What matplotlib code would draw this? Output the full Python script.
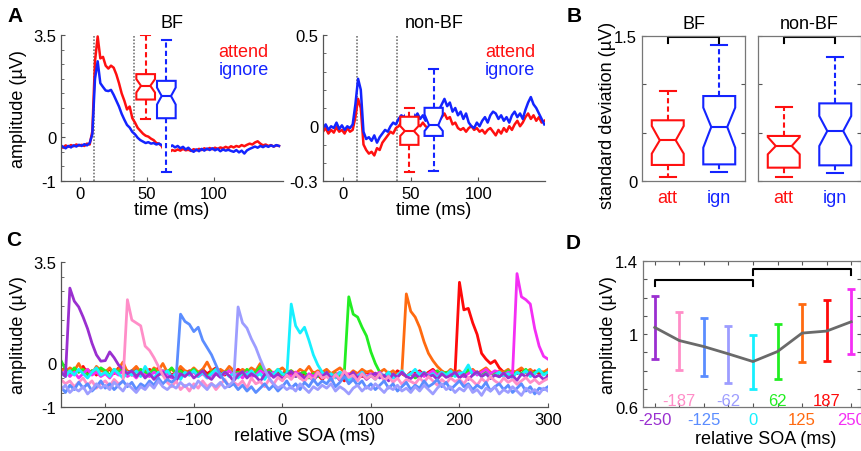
import numpy as np
import matplotlib
matplotlib.use('Agg')
import matplotlib.pyplot as plt
from matplotlib.ticker import MultipleLocator

plt.rcParams['font.family'] = ['Liberation Sans', 'DejaVu Sans']
plt.rcParams['font.size'] = 12
plt.rcParams['axes.edgecolor'] = '#555555'
plt.rcParams['axes.linewidth'] = 0.9
plt.rcParams['xtick.color'] = '#555555'
plt.rcParams['ytick.color'] = '#555555'
plt.rcParams['xtick.labelcolor'] = 'black'
plt.rcParams['ytick.labelcolor'] = 'black'
plt.rcParams['xtick.direction'] = 'in'
plt.rcParams['ytick.direction'] = 'in'

W, H = 862, 452
RED, BLUE = '#ff1010', '#1424ff'

# ---------------- panel A : averaged traces (time in ms, 2 ms steps) ----------------
ta = np.arange(-15, 150, 2)
bf_att = [-0.30, -0.36, -0.28, -0.33, -0.27, -0.31, -0.25, -0.29, -0.26, -0.30, -0.22, -0.25,
          0.2, 2.6, 3.45, 2.7, 2.75, 2.45, 2.35, 2.45, 2.38, 2.15, 1.85, 1.5, 1.25, 0.95, 1.05,
          0.65, 0.5, 0.32, 0.22, 0.12, 0.05, 0.02, -0.05, -0.1, -0.2, -0.22, -0.3,
          -0.48, -0.45, -0.5, -0.44, -0.47, -0.42, -0.46, -0.4, -0.45, -0.43,
          -0.47, -0.41, -0.45, -0.4, -0.44, -0.38, -0.42, -0.37, -0.41, -0.36,
          -0.4, -0.35, -0.38, -0.33, -0.37, -0.31, -0.35, -0.3, -0.33, -0.27,
          -0.31, -0.26, -0.22, -0.25, -0.18, -0.14, -0.22, -0.28, -0.25, -0.3,
          -0.27, -0.32, -0.28, -0.3]
bf_ign = [-0.27, -0.33, -0.38, -0.3, -0.35, -0.28, -0.32, -0.26, -0.3, -0.24, -0.28, -0.2,
          0.1, 2.0, 2.6, 1.85, 1.72, 1.6, 1.58, 1.62, 1.45, 1.25, 1.05, 0.8, 0.6, 0.42, 0.33,
          0.18, 0.1, -0.02, -0.1, -0.15, -0.2, -0.17, -0.22, -0.2, -0.25, -0.22, -0.27,
          -0.3, -0.25, -0.33, -0.28, -0.35, -0.3, -0.38, -0.33, -0.42, -0.36,
          -0.45, -0.5, -0.42, -0.48, -0.4, -0.46, -0.39, -0.44, -0.38, -0.45,
          -0.4, -0.48, -0.42, -0.46, -0.43, -0.47, -0.5, -0.44, -0.52, -0.46,
          -0.56, -0.45, -0.4, -0.36, -0.32, -0.36, -0.3, -0.34, -0.29, -0.33,
          -0.28, -0.32, -0.27, -0.3]
nbf_att = [-0.03, -0.01, -0.04, -0.02, -0.035, -0.005, -0.03, -0.02, -0.04, -0.01, -0.03, -0.02,
           0.05, 0.15, 0.1, -0.1, -0.13, -0.15, -0.14, -0.16, -0.12, -0.13,
           -0.09, -0.07, -0.05, -0.03, -0.04, -0.01, 0.0, 0.02, 0.0, -0.01,
           -0.02, 0.0, -0.01, 0.01, 0.0, 0.02, 0.0, -0.01, 0.01, 0.02,
           0.0, 0.03, 0.05, 0.07, 0.04, 0.05, 0.01, 0.02, -0.01, -0.02,
           -0.01, -0.03, -0.01, 0.0, -0.02, -0.01, -0.03, -0.02, -0.04, -0.02,
           -0.01, -0.03, -0.05, -0.02, -0.04, -0.01, -0.03, 0.0, -0.02, 0.01,
           0.03, 0.0, 0.02, 0.05, 0.07, 0.04, 0.06, 0.03, 0.05, 0.02, 0.03]
nbf_ign = [-0.01, 0.01, -0.02, 0.0, -0.01, 0.02, -0.015, 0.005, -0.02, 0.0, -0.01, 0.01,
           0.12, 0.26, 0.2, -0.03, -0.07, -0.06, -0.08, -0.05, -0.09, -0.06,
           -0.04, -0.02, -0.03, 0.0, 0.02, 0.01, 0.04, 0.06, 0.05, 0.07,
           0.06, 0.08, 0.05, 0.07, 0.04, 0.06, 0.03, 0.05, 0.02, 0.04,
           0.06, 0.09, 0.12, 0.15, 0.11, 0.13, 0.08, 0.1, 0.06, 0.08,
           0.04, 0.07, 0.02, 0.0, -0.01, 0.02, 0.0, 0.03, 0.05, 0.02,
           0.06, 0.08, 0.07, 0.04, 0.06, 0.03, 0.05, 0.02, 0.06, 0.08,
           0.05, 0.07, 0.04, 0.09, 0.13, 0.16, 0.12, 0.1, 0.07, 0.04, 0.01]

# box stats: whislo, q1, cilo, median, cihi, q3, whishi
bf_att_box = [0.63, 1.29, 1.53, 1.76, 1.99, 2.16, 3.5]
bf_ign_box = [-1.18, 0.65, 1.12, 1.41, 1.70, 1.93, 3.33]
nbf_att_box = [-0.253, -0.102, -0.053, -0.026, 0.001, 0.052, 0.101]
nbf_ign_box = [-0.244, -0.053, -0.026, 0.005, 0.065, 0.101, 0.315]

# ---------------- panel B : SD box plots ----------------
sd_bf_att = [0.045, 0.166, 0.283, 0.421, 0.569, 0.628, 0.931]
sd_bf_ign = [0.097, 0.172, 0.345, 0.559, 0.759, 0.879, 1.407]
sd_nbf_att = [0.045, 0.138, 0.276, 0.362, 0.455, 0.466, 0.769]
sd_nbf_ign = [0.086, 0.162, 0.362, 0.517, 0.672, 0.803, 1.286]

# ---------------- panel C : traces per SOA (5 ms steps) ----------------
tc = np.arange(-250, 301, 5)
c_m250 = [-0.3, -0.45, 2.6, 2.15, 1.95, 1.6, 1.2, 0.7, 0.3, 0.08,
          0.1, 0.4, 0.2, -0.05, -0.2, -0.35, -0.25, -0.45, -0.3, -0.5,
          -0.35, -0.55, -0.4, -0.3, -0.5, -0.42, -0.6, -0.35, -0.45, -0.3,
          -0.5, -0.38, -0.25, -0.45, -0.55, -0.35, -0.48, -0.3, -0.42, -0.6,
          -0.4, -0.28, -0.5, -0.35, -0.45, -0.62, -0.38, -0.3, -0.48, -0.36,
          -0.55, -0.4, -0.27, -0.45, -0.35, -0.5, -0.42, -0.6, -0.38, -0.46,
          -0.3, -0.52, -0.4, -0.58, -0.35, -0.45, -0.3, -0.5, -0.38, -0.55,
          -0.42, -0.33, -0.5, -0.4, -0.6, -0.36, -0.48, -0.3, -0.45, -0.52,
          -0.38, -0.5, -0.32, -0.46, -0.4, -0.55, -0.35, -0.48, -0.42, -0.3,
          -0.5, -0.37, -0.55, -0.4, -0.28, -0.45, -0.35, -0.52, -0.4, -0.46,
          -0.33, -0.5, -0.42, -0.58, -0.36, -0.45, -0.3, -0.48, -0.4, -0.55, -0.44]
c_m187 = [-0.55, -0.7, -0.6, -0.8, -0.65, -0.5, -0.75, -0.6, -0.85, -0.7,
          -0.6, -0.78, -0.55, -0.7, -0.62, 2.2, 1.5, 1.4, 1.3, 0.6,
          0.45, 0.2, -0.1, -0.4, -0.65, -0.8, -0.6, -0.9, -0.75, -0.95,
          -0.7, -0.85, -0.6, -0.8, -0.68, -0.9, -0.72, -0.55, -0.8, -0.65,
          -0.75, -0.6, -0.85, -0.5, -0.7, -0.62, -0.8, -0.55, -0.72, -0.48,
          -0.6, -0.4, -0.55, -0.35, -0.5, -0.62, -0.42, -0.58, -0.3, -0.5,
          -0.45, -0.6, -0.38, -0.55, -0.25, -0.48, -0.4, -0.6, -0.35, -0.52,
          -0.42, -0.55, -0.35, -0.6, -0.45, -0.65, -0.5, -0.72, -0.55, -0.62,
          -0.7, -0.5, -0.65, -0.45, -0.6, -0.75, -0.55, -0.68, -0.5, -0.62,
          -0.55, -0.7, -0.48, -0.6, -0.75, -0.52, -0.65, -0.45, -0.6, -0.7,
          -0.5, -0.65, -0.55, -0.72, -0.6, -0.48, -0.66, -0.55, -0.7, -0.6, -0.52]
c_m125 = [-0.8, -1.0, -0.75, -0.9, -0.65, -0.85, -0.7, -0.95, -0.8, -0.6,
          -0.85, -0.7, -0.9, -0.75, -0.6, -0.8, -0.65, -0.9, -0.7, -0.8,
          -0.6, -0.75, -0.5, -0.7, -0.55, -0.65, -0.5, 1.7, 1.45, 1.35,
          1.1, 1.25, 0.8, 0.55, 0.3, -0.05, -0.4, -0.6, -0.8, -0.7,
          -0.9, -0.75, -0.95, -0.8, -1.0, -0.85, -0.7, -0.9, -0.75, -0.95,
          -0.8, -0.6, -0.85, -0.7, -0.9, -0.65, -0.8, -0.55, -0.75, -0.6,
          -0.7, -0.5, -0.8, -0.65, -0.45, -0.7, -0.55, -0.75, -0.6, -0.85,
          -0.7, -0.9, -0.75, -0.6, -0.85, -0.7, -0.95, -0.8, -0.65, -0.9,
          -0.75, -0.85, -0.6, -0.8, -0.7, -0.55, -0.8, -0.65, -0.9, -0.75,
          -0.6, -0.8, -0.7, -0.9, -0.75, -0.85, -0.65, -0.95, -0.8, -0.7,
          -0.9, -0.75, -1.0, -0.85, -0.7, -0.95, -0.8, -1.05, -0.85, -0.9, -0.8]
c_m62 = [-0.9, -0.75, -1.0, -0.85, -0.95, -0.8, -1.05, -0.9, -0.7, -0.85,
         -0.75, -0.9, -0.65, -0.8, -0.95, -0.7, -0.85, -1.0, -0.8, -0.9,
         -0.7, -0.85, -0.6, -0.8, -0.9, -0.75, -0.85, -0.65, -0.8, -0.7,
         -0.85, -0.6, -0.75, -0.9, -0.7, -0.8, -0.65, -0.85, -0.75, -0.6,
         1.95, 1.4, 1.22, 0.85, 0.55, 0.15, -0.2, -0.5, -0.7, -0.85,
         -0.75, -0.9, -0.8, -0.95, -0.7, -0.85, -1.0, -0.8, -0.9, -0.75,
         -0.85, -0.7, -0.95, -0.8, -0.9, -1.05, -0.85, -0.75, -0.95, -0.8,
         -0.9, -0.7, -0.85, -1.0, -0.8, -0.9, -0.75, -0.95, -0.85, -1.0,
         -0.8, -0.95, -0.75, -0.9, -1.05, -0.85, -0.7, -0.9, -0.8, -1.0,
         -0.85, -0.95, -0.75, -1.0, -0.9, -1.1, -0.85, -0.95, -0.8, -1.05,
         -0.9, -1.0, -0.8, -0.95, -1.1, -0.85, -1.0, -0.9, -1.05, -0.85, -0.95]
c_0 = [-0.3, -0.45, -0.25, -0.4, -0.2, -0.35, -0.5, -0.3, -0.15, -0.4,
       -0.3, -0.45, -0.2, -0.35, -0.5, -0.3, -0.4, -0.25, -0.45, -0.1,
       -0.35, -0.5, -0.3, -0.4, -0.25, -0.45, -0.35, -0.55, -0.3, -0.4,
       -0.25, -0.45, -0.3, -0.5, -0.35, -0.2, -0.4, -0.3, -0.45, -0.35,
       -0.5, -0.3, -0.4, -0.25, -0.45, -0.35, -0.55, -0.3, -0.4, -0.2,
       -0.35, -0.45, 2.05, 1.3, 1.05, 1.25, 0.8, 0.3, -0.05, -0.3,
       -0.45, -0.35, -0.5, -0.3, -0.4, -0.6, -0.35, -0.45, -0.3, -0.5,
       -0.4, -0.55, -0.35, -0.45, -0.3, -0.5, -0.4, -0.25, -0.45, -0.35,
       -0.2, -0.4, -0.3, -0.45, -0.35, -0.5, -0.3, -0.4, -0.25, -0.45,
       -0.35, -0.3, -0.05, -0.4, -0.3, -0.45, -0.35, -0.5, -0.4, -0.3,
       -0.45, -0.35, -0.5, -0.3, -0.4, -0.25, -0.45, -0.35, -0.2, -0.4, -0.3]
c_62 = [0.1, -0.2, -0.35, -0.15, -0.3, -0.2, -0.4, -0.25, -0.3, -0.15,
        -0.25, -0.4, -0.2, -0.3, -0.15, -0.35, -0.25, -0.45, -0.2, -0.3,
        -0.35, -0.2, -0.4, -0.25, -0.3, -0.15, -0.35, -0.25, -0.4, -0.3,
        -0.2, -0.35, -0.25, -0.45, -0.3, -0.2, -0.4, -0.3, -0.25, -0.35,
        -0.3, -0.45, -0.2, -0.35, -0.3, -0.1, -0.4, -0.25, -0.35, -0.2,
        -0.4, -0.3, -0.25, -0.45, -0.35, -0.3, -0.5, -0.35, -0.45, -0.3,
        -0.4, -0.55, -0.35, -0.45, -0.3, 2.3, 1.7, 1.6, 1.25, 0.95,
        0.4, 0.0, -0.3, -0.45, -0.35, -0.5, -0.4, -0.3, -0.45, -0.35,
        -0.5, -0.4, -0.3, -0.45, -0.35, -0.25, -0.4, -0.3, -0.45, -0.35,
        -0.3, -0.45, -0.2, -0.35, -0.3, -0.4, -0.25, -0.35, -0.3, -0.45,
        -0.35, -0.25, -0.4, -0.3, -0.35, -0.2, -0.4, -0.3, -0.25, -0.35, -0.3]
c_125 = [-0.2, -0.3, -0.15, -0.25, 0.0, -0.3, -0.2, -0.35, -0.1, -0.25,
         -0.3, -0.15, -0.35, -0.2, 0.05, -0.3, -0.25, -0.1, -0.3, -0.2,
         -0.35, -0.15, -0.25, 0.0, -0.3, -0.2, -0.35, -0.1, -0.25, -0.3,
         -0.15, -0.3, -0.2, 0.05, -0.25, -0.35, -0.2, -0.3, -0.1, -0.25,
         -0.35, -0.2, -0.3, -0.15, -0.25, 0.0, -0.3, -0.2, -0.35, -0.25,
         -0.15, -0.3, -0.25, -0.35, -0.2, -0.3, -0.1, -0.35, -0.25, -0.3,
         -0.2, -0.35, -0.25, -0.15, -0.3, -0.4, -0.25, -0.35, -0.2, -0.3,
         -0.25, -0.4, -0.3, -0.2, -0.35, -0.25, -0.4, -0.3, 2.4, 1.8,
         1.6, 1.25, 0.75, 0.35, 0.1, -0.1, -0.25, -0.35, -0.2, -0.3,
         -0.25, -0.4, -0.3, -0.2, -0.35, -0.25, -0.15, -0.3, -0.4, -0.25,
         -0.3, -0.2, -0.35, -0.25, -0.15, -0.3, -0.2, -0.35, -0.25, -0.3, -0.2]
c_187 = [-0.25, -0.15, -0.35, -0.2, -0.3, -0.1, -0.35, -0.25, -0.4, -0.2,
         -0.3, -0.2, -0.35, -0.15, -0.3, -0.25, -0.4, -0.2, -0.3, -0.35,
         -0.2, -0.3, -0.15, -0.35, -0.25, -0.4, -0.3, -0.2, -0.35, -0.25,
         -0.3, -0.4, -0.2, -0.35, -0.25, -0.15, -0.3, -0.4, -0.25, -0.35,
         -0.2, -0.3, -0.25, -0.4, -0.3, -0.2, -0.35, -0.25, -0.45, -0.3,
         -0.35, -0.25, -0.4, -0.3, -0.5, -0.35, -0.45, -0.3, -0.4, -0.55,
         -0.4, -0.5, -0.35, -0.45, -0.6, -0.4, -0.5, -0.35, -0.45, -0.3,
         -0.4, -0.5, -0.35, -0.45, -0.3, -0.4, -0.25, -0.35, -0.45, -0.3,
         -0.35, -0.25, -0.4, -0.3, -0.2, -0.35, -0.3, -0.4, -0.25, -0.35,
         2.8, 1.85, 1.9, 1.4, 1.0, 0.35, 0.15, 0.0, 0.1, -0.15,
         -0.3, -0.4, -0.25, -0.35, -0.2, -0.3, -0.4, -0.25, -0.35, -0.3, -0.4]
c_250 = [-0.4, -0.25, -0.45, -0.3, -0.5, -0.35, -0.2, -0.4, -0.3, -0.45,
         -0.35, -0.5, -0.3, -0.4, -0.25, -0.45, -0.35, -0.5, -0.3, -0.4,
         -0.45, -0.3, -0.4, -0.25, -0.35, -0.5, -0.3, -0.45, -0.35, -0.4,
         -0.3, -0.45, -0.35, -0.5, -0.4, -0.3, -0.45, -0.35, -0.25, -0.4,
         -0.35, -0.5, -0.3, -0.45, -0.4, -0.25, -0.35, -0.45, -0.3, -0.4,
         -0.5, -0.35, -0.45, -0.3, -0.4, -0.55, -0.35, -0.45, -0.3, -0.4,
         -0.35, -0.5, -0.4, -0.3, -0.45, -0.35, -0.55, -0.4, -0.3, -0.45,
         -0.35, -0.4, -0.3, -0.45, -0.35, -0.5, -0.4, -0.3, -0.45, -0.35,
         -0.4, -0.3, -0.45, -0.35, -0.25, -0.4, -0.3, -0.45, -0.35, -0.4,
         -0.3, -0.45, -0.35, -0.25, -0.4, -0.3, -0.2, -0.35, -0.25, -0.3,
         -0.4, -0.3, -0.35, 3.1, 2.3, 2.2, 2.05, 1.2, 0.6, 0.25, 0.15]

# ---------------- panel D : mean amplitude per SOA ----------------
soa = [-250, -187.5, -125, -62.5, 0, 62.5, 125, 187.5, 250]
soa_labels = ['-250', '-187', '-125', '-62', '0', '62', '125', '187', '250']
soa_colors = ['#9a2fd0', '#ff8ec8', '#5b8dff', '#9d9dff', '#16f0ff',
              '#22ee22', '#ff6a10', '#ff0a0a', '#f42ef4']
d_mean = [1.036, 0.964, 0.931, 0.891, 0.849, 0.904, 1.005, 1.016, 1.067]
d_lo = [0.864, 0.805, 0.769, 0.733, 0.698, 0.751, 0.845, 0.851, 0.893]
d_hi = [1.209, 1.118, 1.087, 1.042, 0.996, 1.055, 1.167, 1.184, 1.245]

fig = plt.figure(figsize=(W / 100, H / 100), dpi=100)


def px_axes(l, t, r, b):
    return fig.add_axes([l / W, 1 - b / H, (r - l) / W, (b - t) / H])


def open_axes(ax):
    ax.spines['top'].set_visible(False)
    ax.spines['right'].set_visible(False)
    ax.tick_params(length=3, labelsize=12)


def draw_box(ax, vals, pos, width, color):
    lo, q1, cilo, med, cihi, q3, hi = vals
    st = dict(whislo=lo, q1=q1, cilo=cilo, med=med, cihi=cihi, q3=q3, whishi=hi, fliers=[])
    ax.fill_betweenx([lo, hi], pos - width / 4, pos + width / 4, color='white', lw=0, zorder=3)
    ax.bxp([st], positions=[pos], widths=width, shownotches=True, showfliers=False,
           patch_artist=True, manage_ticks=False, zorder=4,
           boxprops=dict(facecolor='white', edgecolor=color, lw=1.5),
           whiskerprops=dict(color=color, lw=1.5, ls=(0, (2.5, 1.5))),
           capprops=dict(color=color, lw=1.5),
           medianprops=dict(color=color, lw=1.5))


# ---- A, BF ----
ax = px_axes(61, 36, 283, 182)
ax.plot(ta, bf_att, color=RED, lw=1.8, zorder=2)
ax.plot(ta, bf_ign, color=BLUE, lw=1.8, zorder=2)
for x in [10, 40]:
    ax.axvline(x, color='#777777', ls=(0, (1, 1)), lw=1.2, zorder=1)
draw_box(ax, bf_att_box, 49, 14, RED)
draw_box(ax, bf_ign_box, 64.5, 14, BLUE)
ax.set_xlim(-14.5, 152)
ax.set_ylim(-1.5, 3.5)
ax.set_xticks([0, 50, 100])
ax.set_yticks([-1.5, 0, 3.5], ['-1', '0', '3.5'])
ax.yaxis.set_minor_locator(MultipleLocator(0.5))
ax.tick_params(which='minor', length=2)
open_axes(ax)
ax.set_title('BF', fontsize=13, pad=6)
ax.set_xlabel('time (ms)', fontsize=13, labelpad=0)
ax.set_ylabel('amplitude (µV)', fontsize=13)
ax.yaxis.set_label_coords(-0.153, 0.5)
ax.text(0.935, 0.89, 'attend', color=RED, fontsize=13, ha='right', va='center', transform=ax.transAxes)
ax.text(0.935, 0.767, 'ignore', color=BLUE, fontsize=13, ha='right', va='center', transform=ax.transAxes)

# ---- A, non-BF ----
ax = px_axes(323, 36, 545, 182)
ax.plot(ta, nbf_att, color=RED, lw=1.8, zorder=2)
ax.plot(ta, nbf_ign, color=BLUE, lw=1.8, zorder=2)
for x in [10, 40]:
    ax.axvline(x, color='#777777', ls=(0, (1, 1)), lw=1.2, zorder=1)
draw_box(ax, nbf_att_box, 49, 13.5, RED)
draw_box(ax, nbf_ign_box, 67, 13.5, BLUE)
ax.set_xlim(-15, 149.5)
ax.set_ylim(-0.3, 0.5)
ax.set_xticks([0, 50, 100])
ax.set_yticks([-0.3, 0, 0.5], ['-0.3', '0', '0.5'])
ax.yaxis.set_minor_locator(MultipleLocator(0.1))
ax.tick_params(which='minor', length=2)
open_axes(ax)
ax.set_title('non-BF', fontsize=13, pad=6)
ax.set_xlabel('time (ms)', fontsize=13, labelpad=0)
ax.text(0.955, 0.89, 'attend', color=RED, fontsize=13, ha='right', va='center', transform=ax.transAxes)
ax.text(0.955, 0.767, 'ignore', color=BLUE, fontsize=13, ha='right', va='center', transform=ax.transAxes)

# ---- B ----
for i, (title, att, ign, l, r) in enumerate([('BF', sd_bf_att, sd_bf_ign, 642, 745),
                                              ('non-BF', sd_nbf_att, sd_nbf_ign, 758, 861)]):
    ax = px_axes(l, 37, r, 182)
    draw_box(ax, att, 1, 0.62, RED)
    draw_box(ax, ign, 2, 0.62, BLUE)
    ax.plot([1, 1, 2, 2], [1.43, 1.49, 1.49, 1.43], color='black', lw=1.5, clip_on=False)
    ax.set_xlim(0.5, 2.5)
    ax.set_ylim(0, 1.5)
    ax.set_xticks([1, 2], ['att', 'ign'])
    ax.get_xticklabels()[0].set_color(RED)
    ax.get_xticklabels()[1].set_color(BLUE)
    ax.tick_params(axis='x', length=0, labelsize=13, pad=6)
    ax.set_yticks([0, 0.5, 1, 1.5], ['0', '', '', '1.5'] if i == 0 else ['', '', '', ''])
    ax.tick_params(axis='y', length=3, right=True, labelsize=12)
    for s in ax.spines.values():
        s.set_color('#777777')
    ax.set_title(title, fontsize=13, pad=6)
    if i == 0:
        ax.set_ylabel('standard deviation (µV)', fontsize=13)
        ax.yaxis.set_label_coords(-0.25, 0.46)

# ---- C ----
ax = px_axes(61, 263, 548, 408)
for vals, c in zip([c_187, c_125, c_62, c_250, c_0, c_m250, c_m187, c_m125, c_m62],
                   [soa_colors[7], soa_colors[6], soa_colors[5], soa_colors[8], soa_colors[4],
                    soa_colors[0], soa_colors[1], soa_colors[2], soa_colors[3]]):
    ax.plot(tc, vals, color=c, lw=2)
ax.set_xlim(-250, 300)
ax.set_ylim(-1.5, 3.5)
ax.set_xticks([-200, -100, 0, 100, 200, 300])
ax.set_yticks([-1.5, 0, 3.5], ['-1', '0', '3.5'])
ax.yaxis.set_minor_locator(MultipleLocator(0.5))
ax.tick_params(which='minor', length=2)
open_axes(ax)
ax.set_xlabel('relative SOA (ms)', fontsize=13, labelpad=0)
ax.set_ylabel('amplitude (µV)', fontsize=13)
ax.yaxis.set_label_coords(-0.07, 0.5)

# ---- D ----
ax = px_axes(643, 262, 861, 408)
for x, m, lo, hi, c in zip(soa, d_mean, d_lo, d_hi, soa_colors):
    ax.errorbar([x], [m], yerr=[[m - lo], [hi - m]], fmt='none', ecolor=c,
                elinewidth=2, capsize=3, capthick=2)
ax.plot(soa, d_mean, color='#6a6a6a', lw=2, zorder=5)
ax.plot([soa[0], soa[0], soa[4], soa[4]], [1.264, 1.295, 1.295, 1.264], color='black', lw=1.5)
ax.plot([soa[4], soa[4], soa[8], soa[8]], [1.322, 1.358, 1.358, 1.322], color='black', lw=1.5)
ax.set_xlim(-280, 275)
ax.set_ylim(0.6, 1.4)
ax.set_xticks(soa, [lab if k % 2 == 0 else '' for k, lab in enumerate(soa_labels)])
for k, t in enumerate(ax.get_xticklabels()):
    t.set_color(soa_colors[k])
for k in range(1, 9, 2):
    ax.text(soa[k], 0.633, soa_labels[k], color=soa_colors[k], fontsize=12, ha='center', va='center')
ax.set_yticks(np.arange(0.6, 1.45, 0.1), ['0.6', '', '', '', '1', '', '', '', '1.4'])
ax.tick_params(length=3, top=True, right=True, labelsize=12)
for s in ax.spines.values():
    s.set_color('#777777')
ax.set_xlabel('relative SOA (ms)', fontsize=13, labelpad=0)
ax.xaxis.set_label_coords(0.564, -0.16)
ax.set_ylabel('amplitude (µV)', fontsize=13)
ax.yaxis.set_label_coords(-0.12, 0.5)

# panel letters
for lab, x, y in [('A', 7, 17), ('B', 567, 17), ('C', 6, 241), ('D', 566, 244)]:
    fig.text(x / W, 1 - y / H, lab, fontsize=15, fontweight='bold', va='center', ha='left')

fig.savefig('out.png', dpi=100)
